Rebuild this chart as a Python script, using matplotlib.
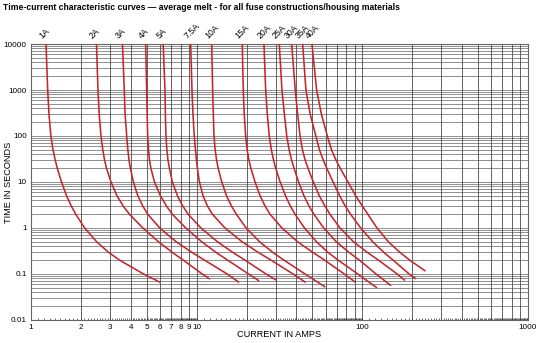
import numpy as np
import matplotlib
matplotlib.use("Agg")
import matplotlib.pyplot as plt
from matplotlib import transforms

plt.rcParams['font.family'] = ['Liberation Sans', 'DejaVu Sans']

# fuse ratings and the melt curves
ratings = ["1A", "2A", "3A", "4A", "5A", "7.5A", "10A", "15A", "20A", "25A", "30A", "35A", "40A"]
times = [10000, 1000, 300, 100, 50, 30, 20, 10, 5, 3, 2, 1, 0.5, 0.3, 0.2, 0.1]

# current (A) at each of the times above, one list per fuse
amps_1A = [1.232, 1.261, 1.284, 1.318, 1.358, 1.400, 1.441, 1.528, 1.640, 1.751, 1.861, 2.109, 2.492, 2.923, 3.425, 4.781]
amps_2A = [2.485, 2.537, 2.580, 2.645, 2.712, 2.781, 2.855, 3.040, 3.304, 3.601, 3.925, 4.735, 5.889, 7.085, 8.300, 10.81]
amps_3A = [3.566, 3.657, 3.698, 3.781, 3.844, 3.903, 3.980, 4.150, 4.416, 4.728, 5.062, 5.981, 7.531, 9.290, 11.16, 15.28]
amps_4A = [4.922, 4.991, 5.026, 5.061, 5.125, 5.189, 5.291, 5.563, 6.047, 6.572, 7.124, 8.594, 10.74, 13.00, 15.37, 20.57]
amps_5A = [6.278, 6.437, 6.473, 6.527, 6.610, 6.711, 6.843, 7.134, 7.657, 8.243, 8.874, 10.62, 13.37, 16.40, 19.56, 26.22]
amps_7A5 = [9.201, 9.368, 9.500, 9.672, 9.835, 9.972, 10.10, 10.39, 10.93, 11.62, 12.44, 14.82, 18.82, 23.34, 28.12, 38.18]
amps_10A = [12.32, 12.49, 12.60, 12.72, 12.93, 13.19, 13.48, 14.17, 15.15, 16.22, 17.34, 19.89, 24.00, 28.63, 33.64, 45.10]
amps_15A = [18.84, 19.11, 19.37, 19.75, 20.17, 20.68, 21.24, 22.51, 24.16, 25.87, 27.70, 32.72, 40.70, 49.91, 59.23, 77.77]
amps_20A = [25.48, 26.09, 26.68, 27.43, 28.24, 29.11, 29.98, 31.91, 34.40, 36.77, 39.20, 44.79, 52.92, 61.66, 71.45, 93.80]
amps_25A = [31.51, 32.72, 33.83, 34.97, 36.16, 37.38, 38.70, 41.21, 44.42, 47.68, 50.97, 58.48, 69.68, 82.57, 96.05, 121.0]
amps_30A = [37.44, 39.36, 40.70, 42.07, 43.51, 45.16, 46.96, 50.61, 55.02, 59.48, 63.68, 73.34, 88.50, 106.5, 125.1, 162.2]
amps_35A = [43.63, 45.66, 48.42, 52.41, 55.10, 58.08, 60.98, 66.56, 72.94, 78.85, 84.87, 97.81, 115.6, 134.1, 153.4, 191.6]
amps_40A = [49.63, 52.99, 56.58, 61.49, 65.18, 69.30, 73.45, 81.88, 91.24, 100.1, 107.8, 122.6, 143.7, 167.7, 193.2, np.nan]

# where each curve stops (current A, time s)
end_amps = [5.965, 11.91, 17.88, 23.63, 30.14, 45.10, 59.23, 90.35, 121.6, 147.8, 179.3, 209.2, 238.4]
end_times = [0.067, 0.079, 0.067, 0.072, 0.074, 0.067, 0.053, 0.067, 0.051, 0.057, 0.074, 0.080, 0.118]

all_amps = [amps_1A, amps_2A, amps_3A, amps_4A, amps_5A, amps_7A5, amps_10A,
            amps_15A, amps_20A, amps_25A, amps_30A, amps_35A, amps_40A]

fig = plt.figure(figsize=(5.4, 3.43), dpi=100)
ax = fig.add_axes([0.0574, 0.0671, 0.9204, 0.8046])
ax.set_xscale("log")
ax.set_yscale("log")
ax.set_xlim(1, 1000)
ax.set_ylim(0.01, 10000)

# grid: 1..9 in every decade
decades = [1, 10, 100]
xgrid = [d * k for d in decades for k in range(1, 10)] + [1000]
ygrid = [d * k for d in [0.01, 0.1, 1, 10, 100, 1000] for k in range(1, 10)] + [10000]
for yv in ygrid:
    ax.axhline(yv, color="#8f8f8f", lw=0.7, zorder=1)
for xv in xgrid:
    ax.axvline(xv, color="#4a4a4a", lw=0.6, zorder=1)

# fine tick marks along the bottom
fine = [d * k for d in decades for k in np.arange(1.0, 10.0, 0.1)]
blend = transforms.blended_transform_factory(ax.transData, ax.transAxes)
ax.vlines(fine, 0, 0.008, transform=blend, color="#333333", lw=0.5, zorder=2)

for name, amps, ea, et in zip(ratings, all_amps, end_amps, end_times):
    xs = [a for a in amps if not np.isnan(a)] + [ea]
    ys = [t for a, t in zip(amps, times) if not np.isnan(a)] + [et]
    ax.plot(xs, ys, color="#c4262e", lw=1.15, zorder=3, solid_joinstyle="round")
    ax.annotate(name, xy=(amps[0], 10000), xytext=(-1.5, 2.8), textcoords="offset points",
                rotation=45, rotation_mode="anchor", ha="left", va="bottom",
                fontsize=6.3, annotation_clip=False)

ax.set_xticks([1, 2, 3, 4, 5, 6, 7, 8, 9, 10, 100, 1000])
ax.set_xticklabels(["1", "2", "3", "4", "5", "6", "7", "8", "9", "10", "100", "1000"])
ax.xaxis.set_minor_locator(matplotlib.ticker.NullLocator())
ax.set_yticks([0.01, 0.1, 1, 10, 100, 1000, 10000])
ax.set_yticklabels(["0.01", "0.1", "1", "10", "100", "1000", "10000"])
ax.yaxis.set_minor_locator(matplotlib.ticker.NullLocator())
ax.tick_params(length=0, labelsize=5.9, pad=3)

for s in ax.spines.values():
    s.set_color("#666666")
    s.set_linewidth(0.8)

ax.set_xlabel("CURRENT IN AMPS", fontsize=6.6)
ax.set_ylabel("TIME IN SECONDS", fontsize=6.6)
ax.xaxis.set_label_coords(0.5, -0.038)
ax.yaxis.set_label_coords(-0.036, 0.5)

fig.text(0.006, 0.99, "Time-current characteristic curves \u2014 average melt - for all fuse constructions/housing materials",
         fontsize=6.2, fontweight="bold", ha="left", va="top")

fig.savefig("out.png", dpi=100, facecolor="white")
